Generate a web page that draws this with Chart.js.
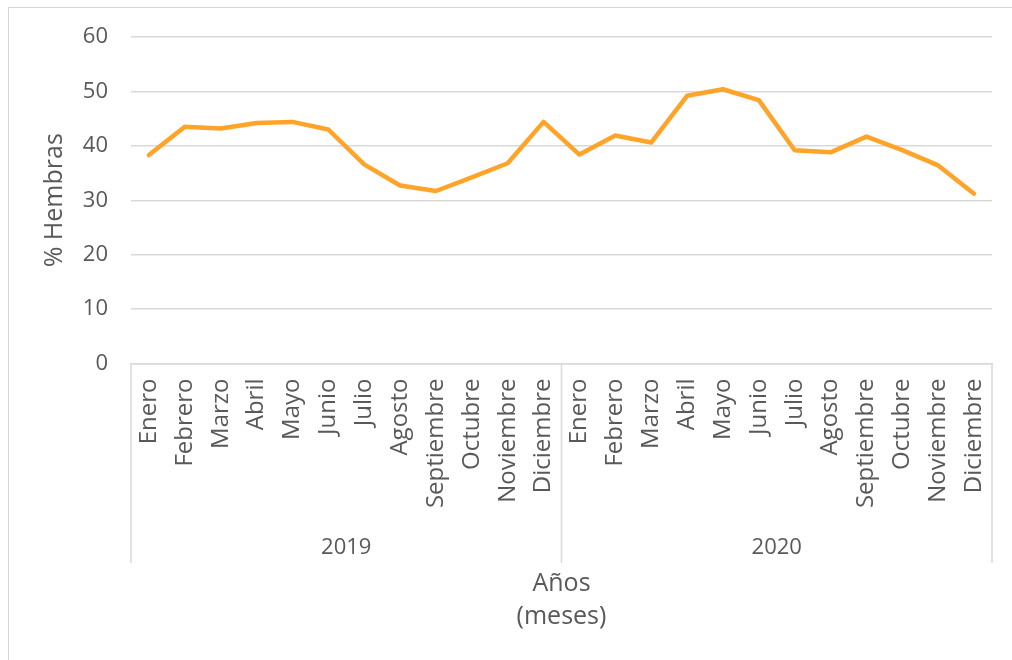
<!DOCTYPE html>
<html>
<head>
<meta charset="utf-8">
<script src="https://cdn.jsdelivr.net/npm/chart.js@4/dist/chart.umd.min.js"></script>
<style>
  html, body { margin: 0; padding: 0; background: #fff; }
  #wrap { position: relative; width: 1012px; height: 660px; overflow: hidden; }
  #frame { position: absolute; left: 8px; top: 7px; width: 1100px; height: 1000px;
           border-top: 1px solid #d6d6d6; border-left: 1px solid #d6d6d6; }
  canvas { position: absolute; left: 0; top: 0; }
</style>
</head>
<body>
<div id="wrap">
  <div id="frame"></div>
  <canvas id="chart" width="1012" height="660"></canvas>
</div>
<script>
// --- Data ---
const months = ['Enero', 'Febrero', 'Marzo', 'Abril', 'Mayo', 'Junio', 'Julio',
  'Agosto', 'Septiembre', 'Octubre', 'Noviembre', 'Diciembre'];
const years = ['2019', '2020'];
const hembras2019 = [38.3, 43.5, 43.2, 44.2, 44.4, 43.0, 36.6, 32.7, 31.7, 34.2, 36.8, 44.4];
const hembras2020 = [38.4, 41.9, 40.6, 49.2, 50.4, 48.4, 39.2, 38.8, 41.7, 39.2, 36.4, 31.2];
const yTicks = [0, 10, 20, 30, 40, 50, 60];

const labels = [...months, ...months];
const values = [...hembras2019, ...hembras2020];

const textColor = '#595959';
const gridColor = '#d9d9d9';
const fontFamily = '"Open Sans", sans-serif';

// Draws the second level of the category axis (years) with its separators
const yearAxis = {
    id: 'yearAxis',
    afterDraw(chart) {
        const ctx = chart.ctx;
        const x = chart.scales.x;
        const area = chart.chartArea;
        const perYear = months.length;
        const lineBottom = 563;

        const edges = [area.left];
        for (let i = 1; i < years.length; i++) {
            edges.push((x.getPixelForValue(i * perYear - 1) + x.getPixelForValue(i * perYear)) / 2);
        }
        edges.push(area.right);

        ctx.save();
        ctx.strokeStyle = gridColor;
        ctx.lineWidth = 1.5;
        edges.forEach(px => {
            ctx.beginPath();
            ctx.moveTo(px, area.bottom);
            ctx.lineTo(px, lineBottom);
            ctx.stroke();
        });

        ctx.fillStyle = textColor;
        ctx.font = '22px ' + fontFamily;
        ctx.textAlign = 'center';
        ctx.textBaseline = 'middle';
        years.forEach((y, i) => {
            ctx.fillText(y, (edges[i] + edges[i + 1]) / 2, 548);
        });
        ctx.restore();
    }
};

new Chart(document.getElementById('chart'), {
    type: 'line',
    data: {
        labels: labels,
        datasets: [{
            label: '% Hembras',
            data: values,
            borderColor: '#ffa329',
            borderWidth: 4.5,
            borderCapStyle: 'round',
            borderJoinStyle: 'round',
            pointRadius: 0,
            tension: 0,
            fill: false
        }]
    },
    options: {
        responsive: false,
        animation: false,
        layout: { padding: { top: 37, right: 20, left: 0, bottom: 0 } },
        plugins: { legend: { display: false }, tooltip: { enabled: false } },
        scales: {
            x: {
                offset: true,
                grid: { display: false, drawTicks: false },
                border: { display: true, color: gridColor, width: 1.5 },
                ticks: {
                    autoSkip: false,
                    minRotation: 90,
                    maxRotation: 90,
                    padding: 15,
                    color: textColor,
                    font: { family: fontFamily, size: 24 }
                },
                title: {
                    display: true,
                    text: ['Años', '(meses)'],
                    color: textColor,
                    font: { family: fontFamily, size: 25, lineHeight: 1.35 },
                    padding: { top: 0, bottom: 26 }
                },
                afterFit: s => {
                    s.height = 296.5;
                    s.paddingLeft = 0;
                    s.paddingRight = 0;
                }
            },
            y: {
                min: 0,
                max: 60,
                afterBuildTicks: s => { s.ticks = yTicks.map(v => ({ value: v })); },
                grid: { color: gridColor, lineWidth: 1.5, drawTicks: false },
                border: { display: false },
                ticks: {
                    padding: 23,
                    color: textColor,
                    font: { family: fontFamily, size: 22 }
                },
                title: {
                    display: true,
                    text: '% Hembras',
                    color: textColor,
                    font: { family: fontFamily, size: 25 },
                    padding: { top: 40, bottom: 0 }
                },
                afterFit: s => { s.width = 131; }
            }
        }
    },
    plugins: [yearAxis]
});
</script>
</body>
</html>
